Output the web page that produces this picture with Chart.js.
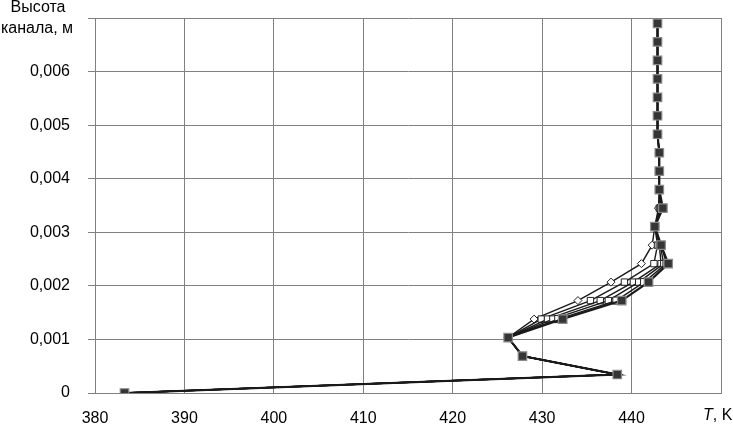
<!DOCTYPE html>
<html>
<head>
<meta charset="utf-8">
<script src="https://cdn.jsdelivr.net/npm/chart.js@4"></script>
<style>
html,body{margin:0;padding:0;background:#fff;}
#wrap{width:733px;height:424px;position:relative;}
</style>
</head>
<body>
<div id="wrap"><canvas id="c" width="733" height="424"></canvas></div>
<script>
// Channel height, m (shared by all series)
const heights = [0, 0.000345, 0.00069, 0.001035, 0.00138, 0.001725, 0.00207, 0.002415, 0.00276, 0.003105, 0.00345, 0.003795, 0.00414, 0.004485, 0.00483, 0.005175, 0.00552, 0.005865, 0.00621, 0.006555, 0.0069];
// Temperature, K, per series
const temp1 = [383.3, 438.4, 427.8, 426.2, 429.1, 434.0, 437.7, 441.1, 442.3, 442.6, 443.0, 443.1, 443.1, 443.1, 442.9, 442.9, 442.9, 442.9, 442.9, 442.9, 442.9];
const temp2 = [383.3, 438.4, 427.8, 426.2, 429.9, 435.4, 439.2, 442.5, 442.9, 442.6, 443.1, 443.1, 443.1, 443.1, 442.9, 442.9, 442.9, 442.9, 442.9, 442.9, 442.9];
const temp3 = [383.3, 438.4, 427.8, 426.2, 430.6, 436.5, 440.2, 443.3, 443.1, 442.6, 443.2, 443.1, 443.1, 443.1, 442.9, 442.9, 442.9, 442.9, 442.9, 442.9, 442.9];
const temp4 = [383.3, 438.4, 427.8, 426.2, 431.2, 437.4, 440.8, 443.6, 443.2, 442.6, 443.3, 443.1, 443.1, 443.1, 442.9, 442.9, 442.9, 442.9, 442.9, 442.9, 442.9];
const temp5 = [383.3, 438.4, 427.8, 426.2, 431.8, 438.3, 441.4, 443.9, 443.3, 442.6, 443.4, 443.1, 443.1, 443.1, 442.9, 442.9, 442.9, 442.9, 442.9, 442.9, 442.9];
const temp6 = [383.3, 438.4, 427.8, 426.2, 432.3, 438.9, 441.9, 444.1, 443.3, 442.6, 443.5, 443.1, 443.1, 443.1, 442.9, 442.9, 442.9, 442.9, 442.9, 442.9, 442.9];
// Axis ticks
const xTicks = [380, 390, 400, 410, 420, 430, 440, 450];
const yTicks = [0, 0.001, 0.002, 0.003, 0.004, 0.005, 0.006, 0.007];
const yTitle = ["Высота", "канала, м"];
const xTitleItalic = "T";
const xTitleRest = ", K";

const FONT = '"Liberation Sans", Arial, sans-serif';
const pts = t => t.map((v, i) => ({x: v, y: heights[i]}));

const styles = [
  {pointStyle: 'rectRot', radius: 4, bg: '#fff', bc: '#222', lw: 1.4, plw: 1},
  {pointStyle: 'rect', radius: 4.5, bg: '#fff', bc: '#222', lw: 1.4, plw: 1},
  {pointStyle: 'rect', radius: 4.5, bg: '#fff', bc: '#222', lw: 1.4, plw: 1},
  {pointStyle: 'rect', radius: 4.5, bg: '#fff', bc: '#222', lw: 1.4, plw: 1},
  {pointStyle: 'rect', radius: 5, bg: '#fff', bc: '#222', lw: 1.4, plw: 1},
  {pointStyle: 'rect', radius: 6, bg: '#353535', bc: '#8a8a8a', lw: 2.2, plw: 1.2}
];
const series = [temp1, temp2, temp3, temp4, temp5, temp6];

const datasets = series.map((t, k) => ({
  data: pts(t),
  showLine: true,
  borderColor: '#1a1a1a',
  borderWidth: styles[k].lw,
  pointStyle: styles[k].pointStyle,
  pointRadius: styles[k].radius,
  pointBackgroundColor: styles[k].bg,
  pointBorderColor: styles[k].bc,
  pointBorderWidth: styles[k].plw,
  tension: 0,
  order: 6 - k
}));

const textPlugin = {
  id: 'textPlugin',
  afterDraw(chart) {
    const ctx = chart.ctx;
    ctx.save();
    ctx.fillStyle = '#000';
    ctx.font = '16px ' + FONT;
    ctx.textAlign = 'center';
    ctx.textBaseline = 'middle';
    ctx.fillText(yTitle[0], 38, 8);
    ctx.fillText(yTitle[1], 37, 29);
    ctx.textAlign = 'left';
    ctx.font = 'italic 16px ' + FONT;
    const x0 = 703;
    ctx.fillText(xTitleItalic, x0, 416);
    const w = ctx.measureText(xTitleItalic).width;
    ctx.font = '16px ' + FONT;
    ctx.fillText(xTitleRest, x0 + w, 416);
    ctx.restore();
  }
};

new Chart(document.getElementById('c'), {
  type: 'scatter',
  data: {datasets},
  plugins: [textPlugin],
  options: {
    responsive: false,
    animation: false,
    devicePixelRatio: 1,
    layout: {padding: {top: 18, right: 12, left: 0, bottom: 0}},
    plugins: {legend: {display: false}, tooltip: {enabled: false}},
    scales: {
      x: {
        type: 'linear',
        min: xTicks[0], max: xTicks[xTicks.length - 1],
        afterBuildTicks: s => { s.ticks = xTicks.map(v => ({value: v})); },
        afterFit: s => { s.height = 31; s.paddingLeft = 0; s.paddingRight = 0; },
        ticks: {
          color: '#000', padding: 16, maxRotation: 0,
          font: {family: FONT, size: 16},
          callback: v => (v === 450 ? '' : String(v))
        },
        grid: {color: '#808080', lineWidth: 1, drawTicks: false},
        border: {color: '#808080', width: 1}
      },
      y: {
        type: 'linear',
        min: yTicks[0], max: yTicks[yTicks.length - 1],
        afterBuildTicks: s => { s.ticks = yTicks.map(v => ({value: v})); },
        afterFit: s => { s.width = 95; s.paddingTop = 0; s.paddingBottom = 0; },
        ticks: {
          color: '#000', padding: 18,
          font: {family: FONT, size: 16},
          callback: v => {
            if (Math.abs(v - 0.007) < 1e-9) return '';
            if (v === 0) return '0';
            return v.toFixed(3).replace('.', ',');
          }
        },
        grid: {color: '#808080', lineWidth: 1, drawTicks: true, tickLength: 7, tickColor: '#808080'},
        border: {color: '#808080', width: 1}
      }
    }
  }
});
</script>
</body>
</html>
